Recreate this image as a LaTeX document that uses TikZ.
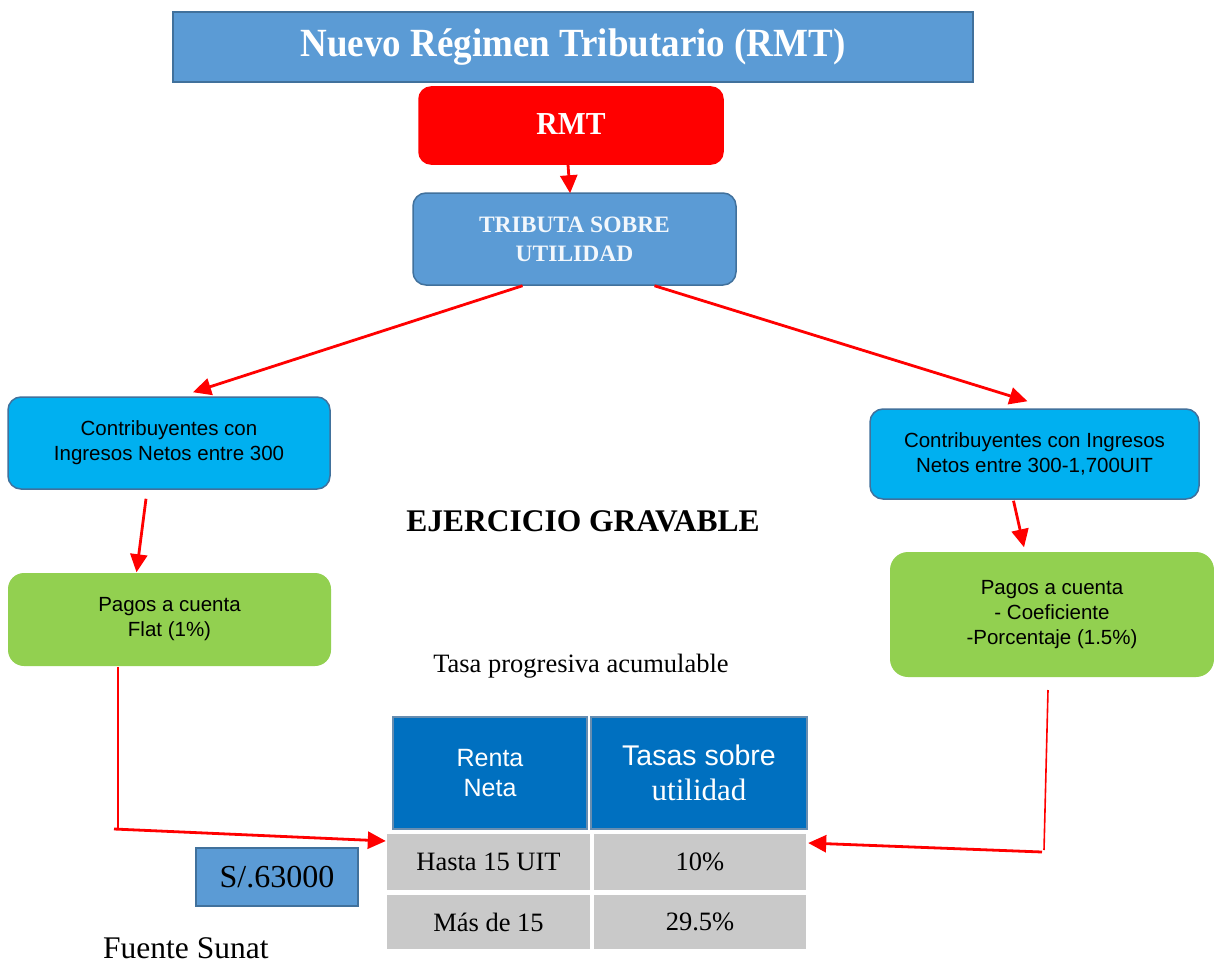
\documentclass[tikz,border=0pt]{standalone}
\usepackage{fontspec}
\setmainfont{Liberation Serif}
\newfontfamily\arialf{Liberation Sans}
\newfontfamily\headf[FakeStretch=0.925]{Liberation Serif}
\usetikzlibrary{arrows.meta,calc}
\definecolor{boxblue}{HTML}{5B9BD5}
\definecolor{edgeblue}{HTML}{41719C}
\definecolor{skyblue}{HTML}{00B0F0}
\definecolor{leafgreen}{HTML}{92D050}
\definecolor{headblue}{HTML}{0070C0}
\definecolor{cellgrey}{HTML}{C9C9C9}
\definecolor{arrred}{HTML}{FF0000}
\tikzset{
  flowbox/.style={draw=edgeblue, line width=1.5pt, rounded corners=13pt, align=center, inner sep=0pt},
  plainbox/.style={draw=edgeblue, line width=1.5pt, align=center, inner sep=0pt},
  cellbox/.style={fill=cellgrey, align=center, inner sep=0pt},
  arr/.style={draw=arrred, line width=2.8pt, -{Triangle[length=18pt,width=17pt]}},
  thinline/.style={draw=arrred, line width=1.6pt},
  sans/.style={font=\arialf\fontsize{20.5}{25}\selectfont, text=black}
}
\begin{document}
\begin{tikzpicture}[x=1pt,y=-1pt]
\useasboundingbox (0,0) rectangle (1214,963);
\fill[white] (0,0) rectangle (1214,963);

% heading and top of the flow
\node[plainbox, fill=boxblue, minimum width=800pt, minimum height=70pt, text=white,
      font=\headf\bfseries\fontsize{40}{42}\selectfont] (title) at (573,47) {Nuevo Régimen Tributario (RMT)};
\node[flowbox, draw=arrred, fill=arrred, rounded corners=12pt, minimum width=304pt, minimum height=77pt,
      text=white, font=\headf\bfseries\fontsize{32}{34}\selectfont] (rmt) at (571,125.5) {\raisebox{3pt}{RMT}};
\node[flowbox, fill=boxblue, minimum width=323pt, minimum height=92pt, text=white!92!boxblue,
      font=\bfseries\fontsize{23.5}{29}\selectfont] (trib) at (574.5,239) {TRIBUTA SOBRE\\UTILIDAD};

% the two branches
\node[flowbox, fill=skyblue, minimum width=322pt, minimum height=92pt, sans] (cl) at (169,443)
      {Contribuyentes con\\Ingresos Netos entre 300};
\node[flowbox, fill=skyblue, minimum width=329pt, minimum height=90pt, sans] (cr) at (1034.5,454)
      {Contribuyentes con Ingresos\\Netos entre 300-1,700UIT};
\node[flowbox, draw=none, fill=leafgreen, rounded corners=16pt, minimum width=323pt, minimum height=93pt, sans] (pl) at (169.5,619.5)
      {Pagos a cuenta\\Flat (1\%)};
\node[flowbox, draw=none, fill=leafgreen, rounded corners=18pt, minimum width=324pt, minimum height=125pt, sans] (pr) at (1052,614.5)
      {Pagos a cuenta\\- Coeficiente\\-Porcentaje (1.5\%)};

\node[font=\bfseries\fontsize{31.5}{34}\selectfont] (ejer) at (583,521) {EJERCICIO GRAVABLE};
\node[font=\fontsize{26.5}{30}\selectfont] (tasa) at (581,666) {Tasa progresiva acumulable};

% rate table
\node[plainbox, draw=edgeblue!80, line width=1.2pt, fill=headblue, minimum width=194pt, minimum height=112pt, text=white,
      font=\arialf\fontsize{25}{29.5}\selectfont] (h1) at (490,773) {Renta\\Neta};
\node[plainbox, draw=edgeblue!80, line width=1.2pt, fill=headblue, minimum width=216pt, minimum height=112pt, text=white,
      font=\fontsize{30}{35}\selectfont] (h2) at (699,773)
      {{\arialf\fontsize{28.5}{35}\selectfont Tasas sobre}\\{\fontsize{31}{35}\selectfont utilidad}};
\node[cellbox, minimum width=203pt, minimum height=56pt, font=\fontsize{26.5}{30}\selectfont] (r1a) at (488.5,862) {Hasta 15 UIT};
\node[cellbox, minimum width=212pt, minimum height=56pt, font=\fontsize{26.5}{30}\selectfont] (r1b) at (700,862) {10\%};
\node[cellbox, minimum width=203pt, minimum height=54pt, font=\fontsize{26.5}{30}\selectfont] (r2a) at (488.5,922) {Más de 15};
\node[cellbox, minimum width=212pt, minimum height=54pt, font=\fontsize{26.5}{30}\selectfont] (r2b) at (700,922) {29.5\%};

\node[plainbox, fill=boxblue, minimum width=162pt, minimum height=58pt, font=\fontsize{32}{34}\selectfont] (sol) at (277,877) {S/.63000};
\node[font=\fontsize{31.5}{34}\selectfont, anchor=west, inner sep=0pt] (src) at (103,948) {Fuente Sunat};

% connectors
\draw[arr, shorten >=-1pt] ([xshift=-3pt]rmt.south) -- ([xshift=-4.5pt]trib.north);
\draw[arr] ([xshift=-52pt]trib.south) -- ([xshift=24pt,yshift=4pt]cl.north);
\draw[arr] ([xshift=80pt]trib.south) -- ([xshift=-7pt,yshift=7pt]cr.north);
\draw[arr] ([xshift=-23pt,yshift=-9pt]cl.south) -- ([xshift=-33pt]pl.north);
\draw[arr] ([xshift=-21pt,yshift=-1pt]cr.south) -- ([xshift=-28pt,yshift=4pt]pr.north);

\coordinate (lbend) at (118,828);
\coordinate (lfoot) at (114,829);
\draw[thinline] ([xshift=-51.5pt]pl.south) -- (lbend);
\draw[arr] (lfoot) -- ([xshift=-1pt,yshift=21pt]r1a.west);

\coordinate (rtop) at (1048,690);
\coordinate (rbend) at (1044,850);
\coordinate (rfoot) at (1042,852);
\draw[thinline] (rtop) -- (rbend);
\draw[arr] (rfoot) -- ([xshift=2pt,yshift=19pt]r1b.east);
\end{tikzpicture}
\end{document}
